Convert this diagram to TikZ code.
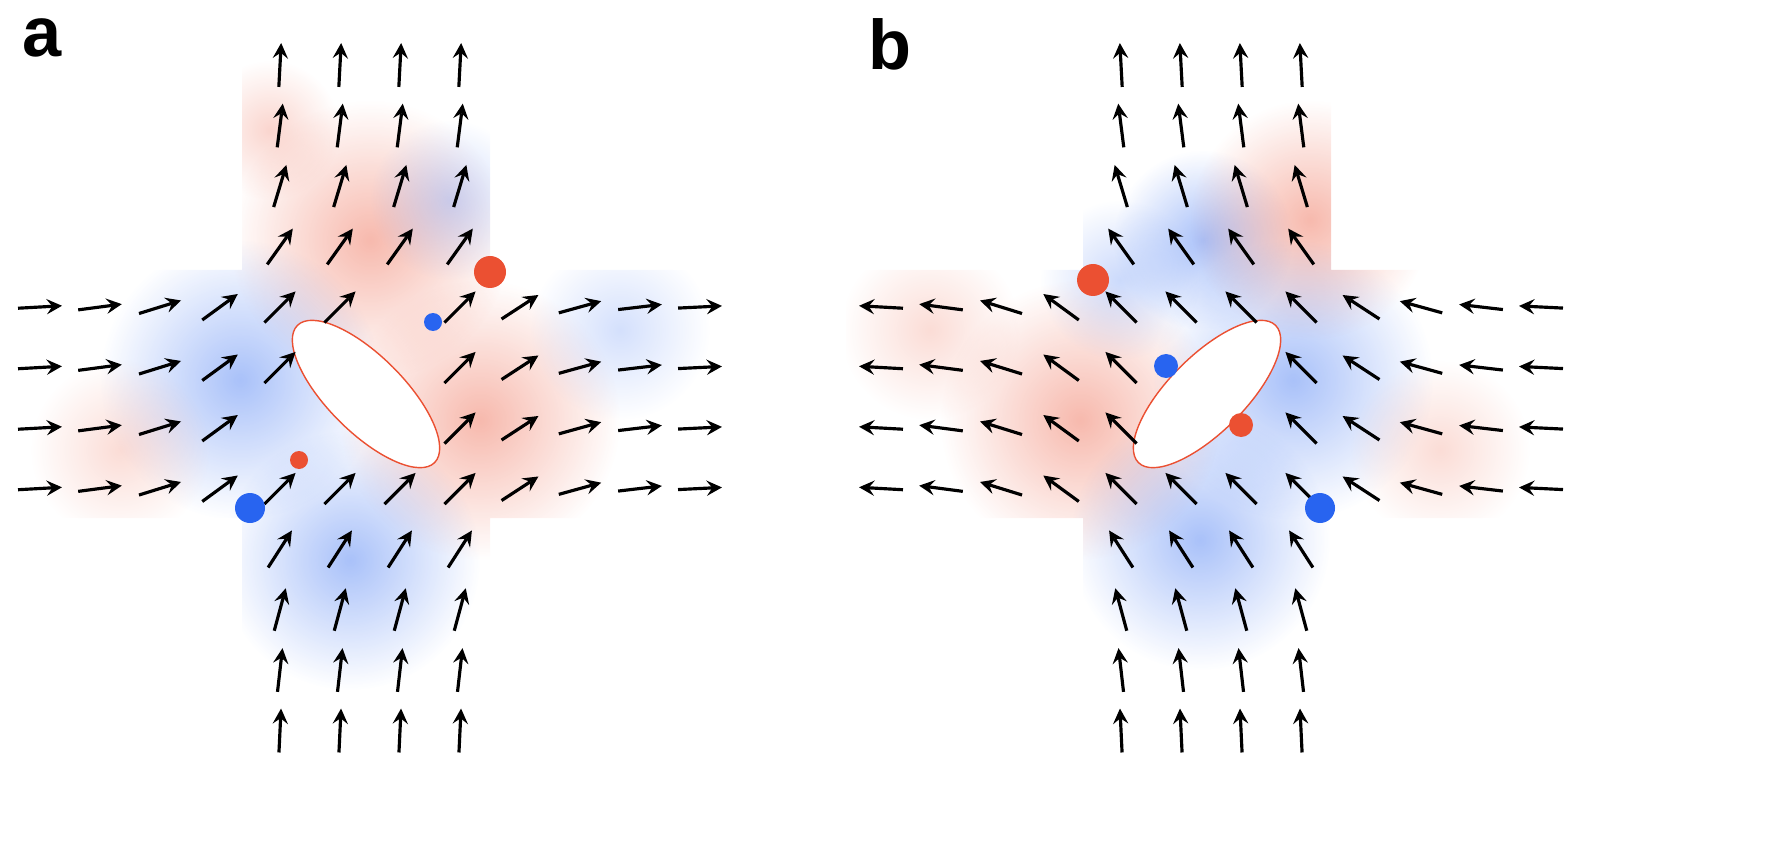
\documentclass[tikz,border=0pt]{standalone}
\usepackage{fontspec}
\usetikzlibrary{fadings}
\setmainfont{Liberation Sans}
\definecolor{rd}{RGB}{235,80,50}
\definecolor{bl}{RGB}{40,100,240}
\tikzfading[name=myfade, inner color=transparent!0, outer color=transparent!100]
\tikzset{fa/.style={-stealth,line width=0.9pt,black},
  lab/.style={font=\bfseries\fontsize{20}{22}\selectfont,anchor=north west,inner sep=0pt}}
\newcommand\blob[4]{\fill[#1,opacity=0.4,path fading=myfade] (#2,#3) circle[radius=#4];}
\newcommand\panel[2]{% #1 x offset, #2 sign
 \begin{scope}
  \clip (#1+242,40) rectangle (#1+490,750) (#1+5,270) rectangle (#1+725,518);
  \ifnum#2=1
   \blob{rd}{370}{240}{140}\blob{rd}{480}{420}{140}\blob{bl}{240}{380}{140}
   \blob{bl}{350}{560}{130}\blob{bl!60}{450}{200}{80}\blob{rd!50}{120}{450}{90}
   \blob{rd!60}{270}{130}{70}\blob{bl!50}{620}{330}{90}
  \else
   \blob{bl}{1203}{240}{90}\blob{rd}{1310}{220}{120}\blob{bl}{1293}{380}{140}
   \blob{rd}{1080}{420}{140}\blob{bl}{1200}{540}{130}\blob{rd!50}{1440}{450}{90}
   \blob{bl!60}{1120}{280}{80}\blob{rd!50}{930}{330}{90}
  \fi
 \end{scope}
 \fill[white,rotate around={-45*#2:(#1+366,394)}] (#1+366,394) ellipse[x radius=97,y radius=38];
 \draw[rd,line width=0.4pt,rotate around={-45*#2:(#1+366,394)}] (#1+366,394) ellipse[x radius=97,y radius=38];
 \foreach \i in {0,...,11}{\foreach \j in {0,...,11}{
   \pgfmathsetmacro\xx{40+60*\i}\pgfmathsetmacro\yy{65+60.5*\j}
   \pgfmathtruncatemacro\inn{or(and(\xx>245,\xx<488),and(\yy>272,\yy<516))}
   \pgfmathsetmacro\uu{(#2*(\xx-366)-(\yy-394))/1.414}
   \pgfmathsetmacro\ww{(#2*(\xx-366)+(\yy-394))/1.414}
   \pgfmathtruncatemacro\outE{(\uu/118)^2+(\ww/56)^2>1}
   \pgfmathtruncatemacro\ok{and(\inn,\outE)}
   \ifnum\ok=1
    \pgfmathsetmacro\dx{max(0,242-\xx,\xx-490)}
    \pgfmathsetmacro\dy{max(0,270-\yy,\yy-518)}
    \pgfmathsetmacro\an{atan2(-exp(-\dx/70),#2*exp(-\dy/70))}
    \draw[fa] ({#1+\xx-22*cos(\an)},{\yy-22*sin(\an)}) -- ({#1+\xx+22*cos(\an)},{\yy+22*sin(\an)});
   \fi}}
}
\begin{document}
\begin{tikzpicture}[x=0.01cm,y=-0.01cm]
\useasboundingbox (0,0) rectangle (1786,864);
\panel{0}{1}
\panel{841}{-1}
\fill[rd] (490,272) circle[radius=16];
\fill[bl] (250,508) circle[radius=15];
\fill[bl] (433,322) circle[radius=9];
\fill[rd] (299,460) circle[radius=9];
\fill[rd] (1093,280) circle[radius=16];
\fill[bl] (1320,508) circle[radius=15];
\fill[bl] (1166,366) circle[radius=12];
\fill[rd] (1241,425) circle[radius=12];
\node[lab] (la) at (22,18) {a};
\node[lab] (lb) at (868,18) {b};
\end{tikzpicture}
\end{document}
